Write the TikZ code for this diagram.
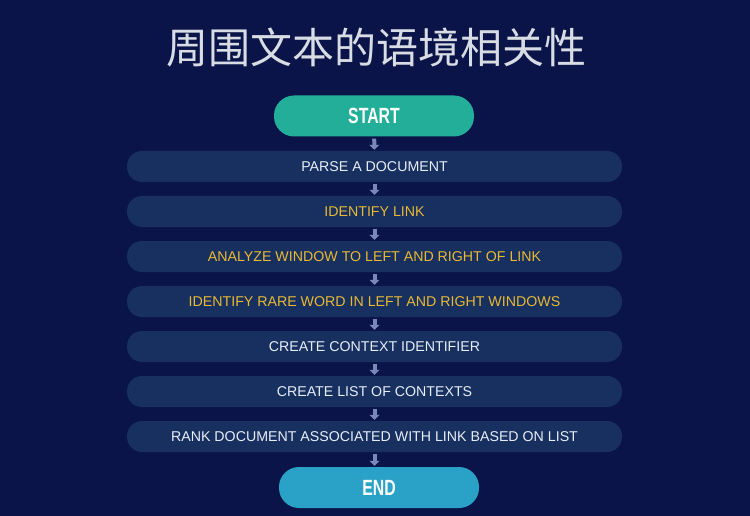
\documentclass[tikz,border=0pt]{standalone}
\usepackage{fontspec}
\setmainfont{Liberation Sans}
\newfontfamily\cjk{Noto Sans CJK SC}
\usetikzlibrary{arrows.meta,positioning}
\definecolor{pNavy}{HTML}{0B1448}
\definecolor{pRow}{HTML}{17305F}
\definecolor{pText}{HTML}{E8EEF8}
\definecolor{pGold}{HTML}{E9B934}
\definecolor{pTeal}{HTML}{22AE98}
\definecolor{pSky}{HTML}{2AA2C8}
\definecolor{pArrow}{HTML}{7A88B8}
\definecolor{pTitle}{HTML}{D8DCE4}
\tikzset{
    stepbar/.style={rectangle, rounded corners=15pt, fill=pRow, minimum width=495pt,
        minimum height=31pt, inner sep=0pt, text=pText, font=\fontsize{14.2pt}{16pt}\selectfont},
    hot/.style={text=pGold},
    term/.style={rectangle, rounded corners=20pt, minimum width=200pt, minimum height=41pt,
        inner sep=0pt, text=white, font=\fontsize{22pt}{24pt}\selectfont\bfseries},
    flow/.style={-{Triangle[width=10pt,length=5pt]}, line width=4pt, pArrow, shorten <=2pt, shorten >=1pt}
}

\begin{document}
\begin{tikzpicture}[x=1pt,y=-1pt]
\fill[pNavy] (0,0) rectangle (750,516);
\useasboundingbox (0,0) rectangle (750,516);
\node[text=pTitle,font=\cjk\fontsize{42pt}{46pt}\selectfont] (title) at (376,48) {周围文本的语境相关性};
\node[term,fill=pTeal] (start) at (374,116) {\scalebox{0.72}[1]{START}};
\node[stepbar] (parse) at (374.5,166.5) {PARSE A DOCUMENT};
\node[stepbar,hot] (ident) at (374.5,211.5) {IDENTIFY LINK};
\node[stepbar,hot] (window) at (374.5,256.5) {ANALYZE WINDOW TO LEFT AND RIGHT OF LINK};
\node[stepbar,hot] (rare) at (374.5,301.5) {IDENTIFY RARE WORD IN LEFT AND RIGHT WINDOWS};
\node[stepbar] (ctxid) at (374.5,346.5) {CREATE CONTEXT IDENTIFIER};
\node[stepbar] (ctxlist) at (374.5,391.5) {CREATE LIST OF CONTEXTS};
\node[stepbar] (rank) at (374.5,436.5) {RANK DOCUMENT ASSOCIATED WITH LINK BASED ON LIST};
\node[term,fill=pSky] (end) at (379,487.5) {\scalebox{0.72}[1]{END}};
\draw[flow] (start) -- (parse);
\draw[flow] (parse) -- (ident);
\draw[flow] (ident) -- (window);
\draw[flow] (window) -- (rare);
\draw[flow] (rare) -- (ctxid);
\draw[flow] (ctxid) -- (ctxlist);
\draw[flow] (ctxlist) -- (rank);
\draw[flow] (rank.south) -- (rank.south |- end.north);
\end{tikzpicture}
\end{document}
